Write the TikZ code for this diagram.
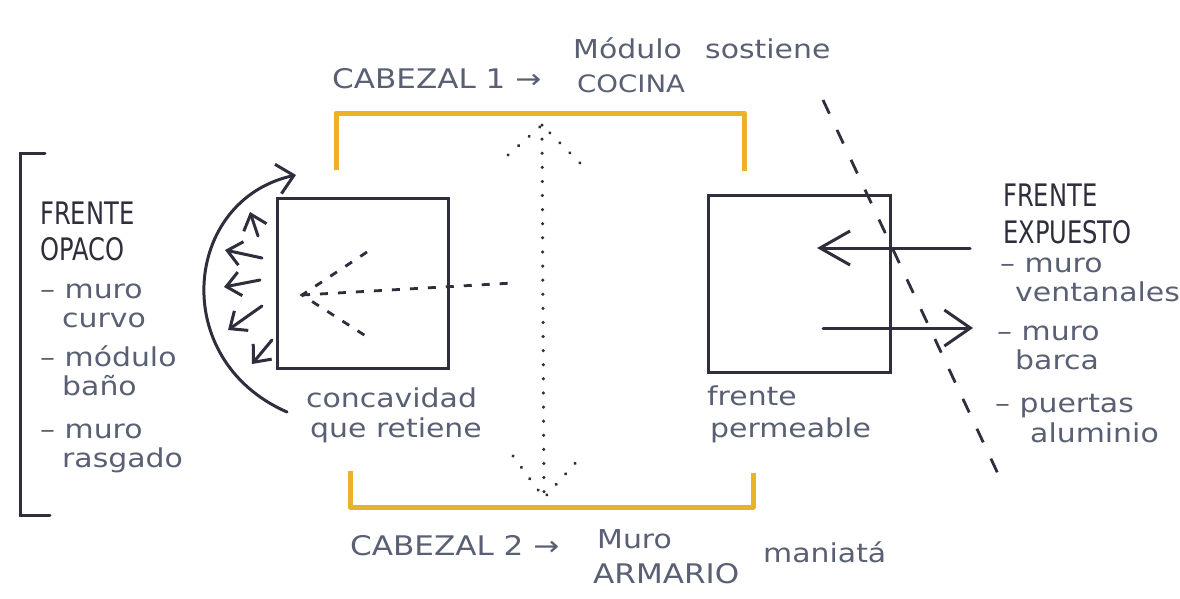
\documentclass[tikz,border=0pt]{standalone}
\usepackage{fontspec}
\setmainfont{DejaVu Sans}
\newfontfamily\hand[FakeStretch=1.15]{DejaVu Sans}
\newfontfamily\marker[FakeStretch=0.78]{DejaVu Sans}
\usetikzlibrary{arrows.meta,positioning}
\definecolor{ink}{HTML}{2E2E3C}
\definecolor{pencil}{HTML}{596073}
\definecolor{marker}{HTML}{EAB228}
\tikzset{
  note/.style={font=\hand\fontsize{26}{30}\selectfont, text=pencil, inner sep=0pt, anchor=base west},
  caps/.style={note, font=\hand\fontsize{27}{30}\selectfont},
  title/.style={note, text=ink, font=\marker\fontsize{31}{34}\selectfont},
  wallbox/.style={draw=ink, line width=3pt, inner sep=0pt},
  headbar/.style={draw=marker, line width=5pt, line join=round},
  inkline/.style={draw=ink, line width=3pt, line cap=round},
  bigarr/.style={inkline, -{Straight Barb[length=30pt, width=34pt]}},
  arcarr/.style={inkline, -{Straight Barb[length=16pt, width=30pt]}},
  smallarr/.style={inkline, -{Straight Barb[length=14pt, width=24pt]}},
  dotline/.style={draw=ink, line width=3.4pt, line cap=round, dash pattern=on 0.1pt off 14pt},
  dashline/.style={draw=ink, line width=2.8pt, dash pattern=on 8pt off 10pt},
  longdash/.style={draw=ink, line width=2.8pt, dash pattern=on 15pt off 18pt}
}
\begin{document}
\begin{tikzpicture}[x=1pt,y=-1pt]
  \useasboundingbox[fill=white] (0,0) rectangle (1180,598);
  % left bracket
  \draw[inkline] (45,153) -- (20,153) -- (20,515) -- (50,515);
  \node[title] (opacoA) at (40,224) {FRENTE};
  \node[title] (opacoB) at (40,260) {OPACO};
  \node[note] (curvoA) at (40,298) {– muro};
  \node[note] (curvoB) at (62,327) {curvo};
  \node[note] (banoA) at (40,366) {– módulo};
  \node[note] (banoB) at (62,395) {baño};
  \node[note] (rasgA) at (40,438) {– muro};
  \node[note] (rasgB) at (62,467) {rasgado};
  % boxes
  \node[wallbox, minimum width=171pt, minimum height=170pt] (cavity) at (362.5,283) {};
  \node[wallbox, minimum width=182pt, minimum height=177pt] (porous) at (799,283.5) {};
  \node[note] (cavA) at (306,407) {concavidad};
  \node[note] (cavB) at (310,437) {que retiene};
  \node[note] (porA) at (707,405) {frente};
  \node[note] (porB) at (710,437) {permeable};
  % heads
  \draw[headbar] (336,170) -- (336,113) -- (744,113) -- (744,171);
  \draw[headbar] (350,471) -- (350,507) -- (753,507) -- (753,473);
  \node[caps] (headA) at (332,88) {CABEZAL 1 →};
  \node[note] (headAa) at (573,58) {Módulo};
  \node[caps, font=\hand\fontsize{24}{28}\selectfont] (headAb) at (577,92) {COCINA};
  \node[note] (holds) at (705,58) {sostiene};
  \node[caps] (headB) at (350,555) {CABEZAL 2 →};
  \node[note] (headBa) at (597,548) {Muro};
  \node[caps] (headBb) at (593,583) {ARMARIO};
  \node[note] (tied) at (763,562) {maniatá};
  % right list
  \node[title] (expA) at (1003,206) {FRENTE};
  \node[title] (expB) at (1003,243) {EXPUESTO};
  \node[note] (ventA) at (1000,272) {– muro};
  \node[note] (ventB) at (1015,301) {ventanales};
  \node[note] (barA) at (997,340) {– muro};
  \node[note] (barB) at (1015,369) {barca};
  \node[note] (doorA) at (995,412) {– puertas};
  \node[note] (doorB) at (1030,442) {aluminio};
  % curved wall and its pushes
  \coordinate (arcBot) at (287,412);
  \coordinate (arcTop) at (296,175);
  \draw[arcarr] (arcBot) .. controls (168,360) and (183,200) .. (arcTop);
  \foreach \sx/\sy/\tx/\ty in {258/236/250/212, 262/258/225/250, 260/280/224/287,
      262/306/228/330, 272/340/252/364} {
    \draw[smallarr] (\sx,\sy) -- (\tx,\ty);
  }
  % gaze inside the cavity
  \coordinate (vApex) at (302,295);
  \coordinate (vTop) at (367,252);
  \coordinate (vBot) at (372,340);
  \coordinate (gazeEnd) at (513,283);
  \draw[dashline] (vTop) -- (vApex) -- (vBot);
  \draw[dashline] (vApex) -- (gazeEnd);
  % axis between heads
  \coordinate (axTop) at (542,125);
  \coordinate (axBot) at (544,498);
  \draw[dotline] (axTop) -- (axBot);
  \draw[dotline] (508,155) -- (axTop) -- (582,165);
  \draw[dotline] (513,456) -- (axBot) -- (578,460);
  % permeable front
  \coordinate (lightIn) at (970,248);
  \coordinate (lightTip) at (817,248);
  \coordinate (viewOut) at (823,328);
  \coordinate (viewTip) at (973,328);
  \draw[bigarr] (lightIn) -- (lightTip);
  \draw[bigarr, -{Straight Barb[length=26pt, width=36pt]}] (viewOut) -- (viewTip);
  \coordinate (cutTop) at (823,100);
  \coordinate (cutBot) at (999,476);
  \draw[longdash] (cutTop) -- (cutBot);
\end{tikzpicture}
\end{document}
